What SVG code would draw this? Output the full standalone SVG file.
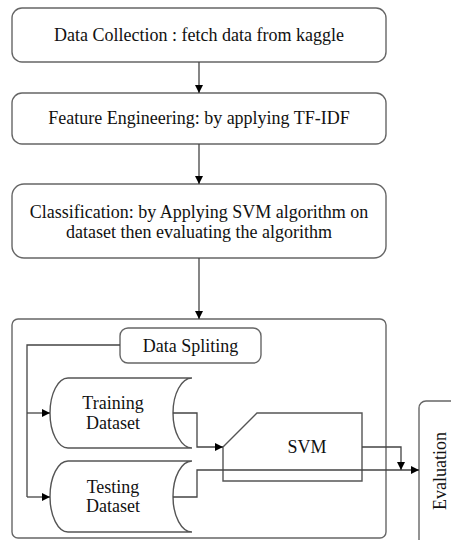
<svg xmlns="http://www.w3.org/2000/svg" width="451" height="540" viewBox="0 0 451 540">
  <style>
    .box { fill: #fff; stroke: #666; stroke-width: 1.4; }
    .shape { fill: #fff; stroke: #555; stroke-width: 1.4; }
    .link { fill: none; stroke: #444; stroke-width: 1.3; }
    text { font-family: "Liberation Serif", "Times New Roman", serif; font-size: 18px; fill: #111; text-anchor: middle; dominant-baseline: central; }
  </style>
  <defs>
    <marker id="arrow" viewBox="0 0 10 10" refX="10" refY="5" markerWidth="8" markerHeight="8" markerUnits="userSpaceOnUse" orient="auto">
      <path d="M0,0 L10,5 L0,10 Z" fill="#000"/>
    </marker>
  </defs>

  <rect width="451" height="540" fill="#fff"/>

  <!-- pipeline stages -->
  <g id="data-collection">
    <rect class="box" x="12" y="8" width="374" height="54" rx="10"/>
    <text x="199" y="35">Data Collection : fetch data from kaggle</text>
  </g>
  <g id="feature-engineering">
    <rect class="box" x="12" y="93" width="374" height="51" rx="10"/>
    <text x="199" y="118">Feature Engineering: by applying TF-IDF</text>
  </g>
  <g id="classification">
    <rect class="box" x="12" y="184" width="374" height="74" rx="12"/>
    <text x="199" y="212">Classification: by Applying SVM algorithm on</text>
    <text x="199" y="232">dataset then evaluating the algorithm</text>
  </g>

  <!-- classification detail panel -->
  <g id="classification-panel">
    <rect class="box" x="12" y="319" width="374" height="219" rx="6"/>
  </g>
  <g id="data-spliting">
    <rect class="box" x="120" y="328" width="141" height="35" rx="8"/>
    <text x="190.5" y="346">Data Spliting</text>
  </g>
  <g id="training-dataset">
    <path class="shape" d="M192,378 H68 A18,35 0 0 0 68,448 H192 A19,35 0 0 1 192,378 Z"/>
    <text x="113" y="403">Training</text>
    <text x="113" y="423">Dataset</text>
  </g>
  <g id="testing-dataset">
    <path class="shape" d="M192,461 H68 A18,35.5 0 0 0 68,532 H192 A19,35.5 0 0 1 192,461 Z"/>
    <text x="113" y="487">Testing</text>
    <text x="113" y="506">Dataset</text>
  </g>
  <g id="svm">
    <path class="shape" d="M223,447 L257,413 H362 V481 H223 Z" style="fill:none"/>
    <text x="307" y="447">SVM</text>
  </g>
  <g id="evaluation">
    <rect class="box" x="419" y="401" width="50" height="150" rx="7"/>
    <text x="440" y="471" transform="rotate(-90 440 471)">Evaluation</text>
  </g>

  <!-- connectors -->
  <g id="connectors">
    <line class="link" x1="199" y1="62" x2="199" y2="93" marker-end="url(#arrow)"/>
    <line class="link" x1="199" y1="144" x2="199" y2="184" marker-end="url(#arrow)"/>
    <line class="link" x1="199" y1="258" x2="199" y2="319" marker-end="url(#arrow)"/>
    <polyline class="link" points="120,345 27,345 27,497"/>
    <line class="link" x1="27" y1="413" x2="50" y2="413" marker-end="url(#arrow)"/>
    <line class="link" x1="27" y1="497" x2="50" y2="497" marker-end="url(#arrow)"/>
    <polyline class="link" points="173,413 197,413 197,447 223,447" marker-end="url(#arrow)"/>
    <polyline class="link" points="173,497 197,497 197,470 419,470" marker-end="url(#arrow)"/>
    <polyline class="link" points="362,447 401,447 401,470" marker-end="url(#arrow)"/>
  </g>
</svg>
